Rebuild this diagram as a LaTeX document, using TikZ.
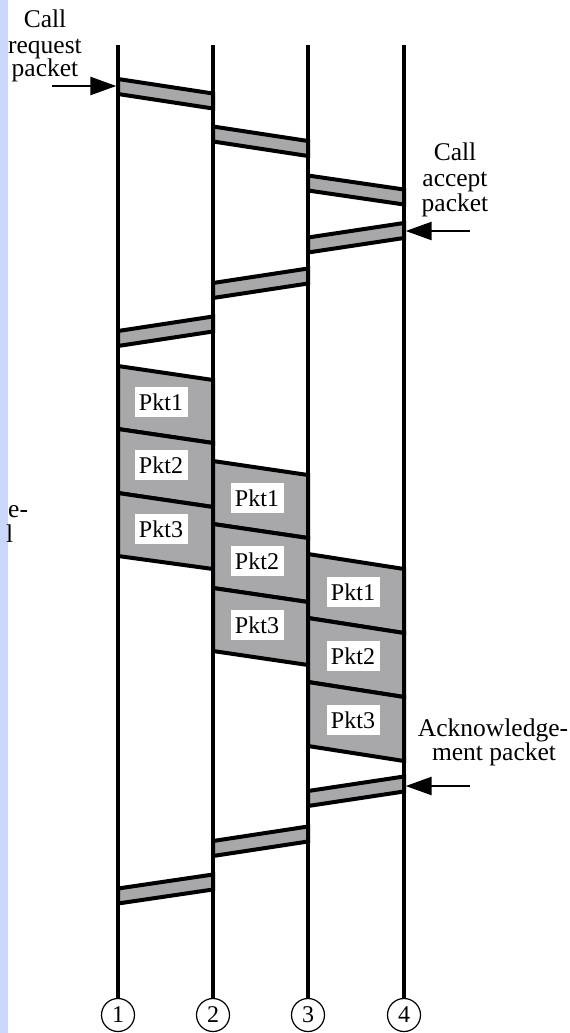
\documentclass[tikz,border=0pt]{standalone}
\usepackage{fontspec}
\setmainfont{Liberation Serif}
\usetikzlibrary{arrows.meta}
\definecolor{pktgray}{RGB}{168,167,170}
\definecolor{stripe}{RGB}{202,214,250}
\begin{document}
\begin{tikzpicture}[x=1pt,y=-1pt,
  lifeline/.style={line width=3.4pt},
  msgbar/.style={fill=pktgray,draw=black,line width=4pt,line join=miter},
  pktbox/.style={fill=pktgray,draw=black,line width=4pt,line join=miter},
  pktlabel/.style={fill=white,minimum width=53pt,minimum height=30pt,inner sep=0pt,font=\fontsize{24}{26}\selectfont},
  sidelabel/.style={anchor=base,inner sep=0pt,font=\fontsize{25.5}{26}\selectfont},
  endpoint/.style={circle,draw,line width=1.2pt,minimum size=33pt,inner sep=0pt,font=\fontsize{24}{24}\selectfont},
  callarrow/.style={line width=2.6pt,-{Triangle[length=26pt,width=18pt]}}]
\useasboundingbox (0,0) rectangle (570,1033);
\fill[white] (0,0) rectangle (570,1033);
\fill[stripe] (0,0) rectangle (8,1033);

% lifelines and end circles
\node[endpoint] (n1) at (118,1015) {1};
\node[endpoint] (n2) at (213,1015) {2};
\node[endpoint] (n3) at (308,1015) {3};
\node[endpoint] (n4) at (404,1015) {4};
\coordinate (t1) at (118,45);
\coordinate (t2) at (213,45);
\coordinate (t3) at (308,45);
\coordinate (t4) at (404,45);
\draw[lifeline] (t1) -- (n1.north);
\draw[lifeline] (t2) -- (n2.north);
\draw[lifeline] (t3) -- (n3.north);
\draw[lifeline] (t4) -- (n4.north);

% call request path
\draw[msgbar] (118,79) -- (213,93.5) -- (213,108.5) -- (118,94) -- cycle;
\draw[msgbar] (213,126.5) -- (308,141) -- (308,156) -- (213,141.5) -- cycle;
\draw[msgbar] (308,175.5) -- (404,189.5) -- (404,204.5) -- (308,190.5) -- cycle;
% call accept path
\draw[msgbar] (404,223) -- (308,237.5) -- (308,252.5) -- (404,238) -- cycle;
\draw[msgbar] (308,268.5) -- (213,283) -- (213,298) -- (308,283.5) -- cycle;
\draw[msgbar] (213,316.5) -- (118,331) -- (118,346) -- (213,331.5) -- cycle;

% data packets, hop 1->2
\draw[pktbox] (118,366) -- (213,380) -- (213,443) -- (118,429) -- cycle;
\draw[pktbox] (118,429) -- (213,443) -- (213,507) -- (118,493) -- cycle;
\draw[pktbox] (118,493) -- (213,507) -- (213,569) -- (118,556) -- cycle;
% hop 2->3
\draw[pktbox] (213,461) -- (308,475) -- (308,538) -- (213,524) -- cycle;
\draw[pktbox] (213,524) -- (308,538) -- (308,602) -- (213,588) -- cycle;
\draw[pktbox] (213,588) -- (308,602) -- (308,665) -- (213,651) -- cycle;
% hop 3->4
\draw[pktbox] (308,554) -- (404,569) -- (404,633) -- (308,618) -- cycle;
\draw[pktbox] (308,618) -- (404,633) -- (404,697) -- (308,682) -- cycle;
\draw[pktbox] (308,682) -- (404,697) -- (404,761) -- (308,746) -- cycle;

\node[pktlabel] (a1) at (161,402) {Pkt1};
\node[pktlabel] (a2) at (161,465) {Pkt2};
\node[pktlabel] (a3) at (161,529) {Pkt3};
\node[pktlabel] (b1) at (257,498) {Pkt1};
\node[pktlabel] (b2) at (257,561) {Pkt2};
\node[pktlabel] (b3) at (257,625) {Pkt3};
\node[pktlabel] (c1) at (353,592) {Pkt1};
\node[pktlabel] (c2) at (353,656) {Pkt2};
\node[pktlabel] (c3) at (353,720) {Pkt3};

% acknowledgement path
\draw[msgbar] (404,776.5) -- (308,791) -- (308,806) -- (404,791.5) -- cycle;
\draw[msgbar] (308,826.5) -- (213,841) -- (213,856) -- (308,841.5) -- cycle;
\draw[msgbar] (213,874.5) -- (118,888.5) -- (118,903.5) -- (213,889.5) -- cycle;

% side labels and arrows
\node[sidelabel] (cr1) at (45,28) {Call};
\node[sidelabel] (cr2) at (45,53) {request};
\node[sidelabel] (cr3) at (45,77) {packet};
\coordinate (crs) at (52,86);
\coordinate (cre) at (116.3,86);
\draw[callarrow] (crs) -- (cre);

\node[sidelabel] (ca1) at (455,160) {Call};
\node[sidelabel] (ca2) at (455,186) {accept};
\node[sidelabel] (ca3) at (455,211) {packet};
\coordinate (cas) at (470,231);
\coordinate (cae) at (405.7,231);
\draw[callarrow] (cas) -- (cae);

\node[sidelabel] (ak1) at (493,736) {Acknowledge-};
\node[sidelabel] (ak2) at (494,760) {ment packet};
\coordinate (aks) at (470,786);
\coordinate (ake) at (405.7,786);
\draw[callarrow] (aks) -- (ake);

% clipped fragments at the left edge
\node[anchor=base west,inner sep=0pt,font=\fontsize{25.5}{26}\selectfont] (f1) at (8,517) {e-};
\node[anchor=base west,inner sep=0pt,font=\fontsize{25.5}{26}\selectfont] (f2) at (6,542) {l};
\end{tikzpicture}
\end{document}
